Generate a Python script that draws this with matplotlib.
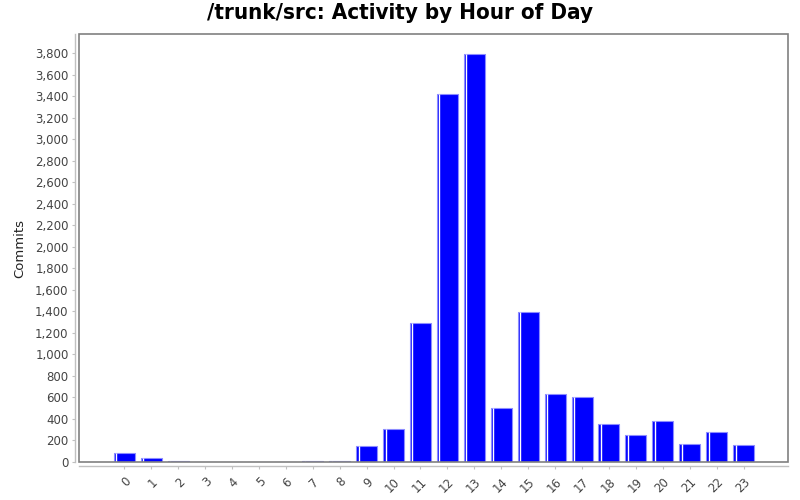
import matplotlib
matplotlib.use("Agg")
import matplotlib.pyplot as plt
from matplotlib.patches import Rectangle
from matplotlib.ticker import FuncFormatter

hours = [str(h) for h in range(24)]
commits = [84, 37, 10, 0, 0, 0, 0, 8, 5, 149, 304, 1295, 3420, 3790,
           505, 1391, 629, 608, 350, 248, 378, 167, 279, 155]
y_ticks = list(range(0, 3801, 200))

title = "/trunk/src: Activity by Hour of Day"
ylabel = "Commits"

fig = plt.figure(figsize=(8, 5), dpi=100)
ax = fig.add_axes([79/800, 1 - 462/500, (788 - 79)/800, (462 - 34)/500])

x = list(range(len(hours)))
w = 0.78
ax.bar(x, commits, width=w, color="#0000ff", edgecolor="#8c8cff", linewidth=0.8, zorder=2)
ax.vlines([i - w/2 + 0.095 for i in x], 0, commits, color="white", linewidth=1.0, zorder=3)

ax.set_xlim(-1.68, 24.65)
ax.set_ylim(0, 3978)
ax.set_xticks(x)
ax.set_xticklabels(hours)
ax.set_yticks(y_ticks)
ax.yaxis.set_major_formatter(FuncFormatter(lambda v, p: f"{int(v):,}"))

for s in ["top", "right"]:
    ax.spines[s].set_visible(False)
for s in ["left", "bottom"]:
    ax.spines[s].set_position(("outward", 3))
    ax.spines[s].set_color("#c0c0c0")
    ax.spines[s].set_linewidth(1.0)
ax.add_patch(Rectangle((0, 0), 1, 1, transform=ax.transAxes, fill=False,
                       edgecolor="#808080", linewidth=1.2, zorder=5, clip_on=False))

ax.tick_params(axis="both", length=2.5, width=0.8, color="#c0c0c0",
               labelcolor="#444444", labelsize=8.5, pad=2)
ax.tick_params(axis="x", pad=4)
for lab in ax.get_xticklabels():
    lab.set_rotation(45)
    lab.set_ha("right")
    lab.set_va("top")
    lab.set_rotation_mode("anchor")

ax.set_ylabel(ylabel, fontsize=9.5, color="#222222", labelpad=6)
fig.text(0.5, 1 - 13/500, title, ha="center", va="center", fontsize=16,
         fontweight="bold", fontstretch="condensed", family="DejaVu Sans")

fig.savefig("out.png", dpi=100, facecolor="white")
